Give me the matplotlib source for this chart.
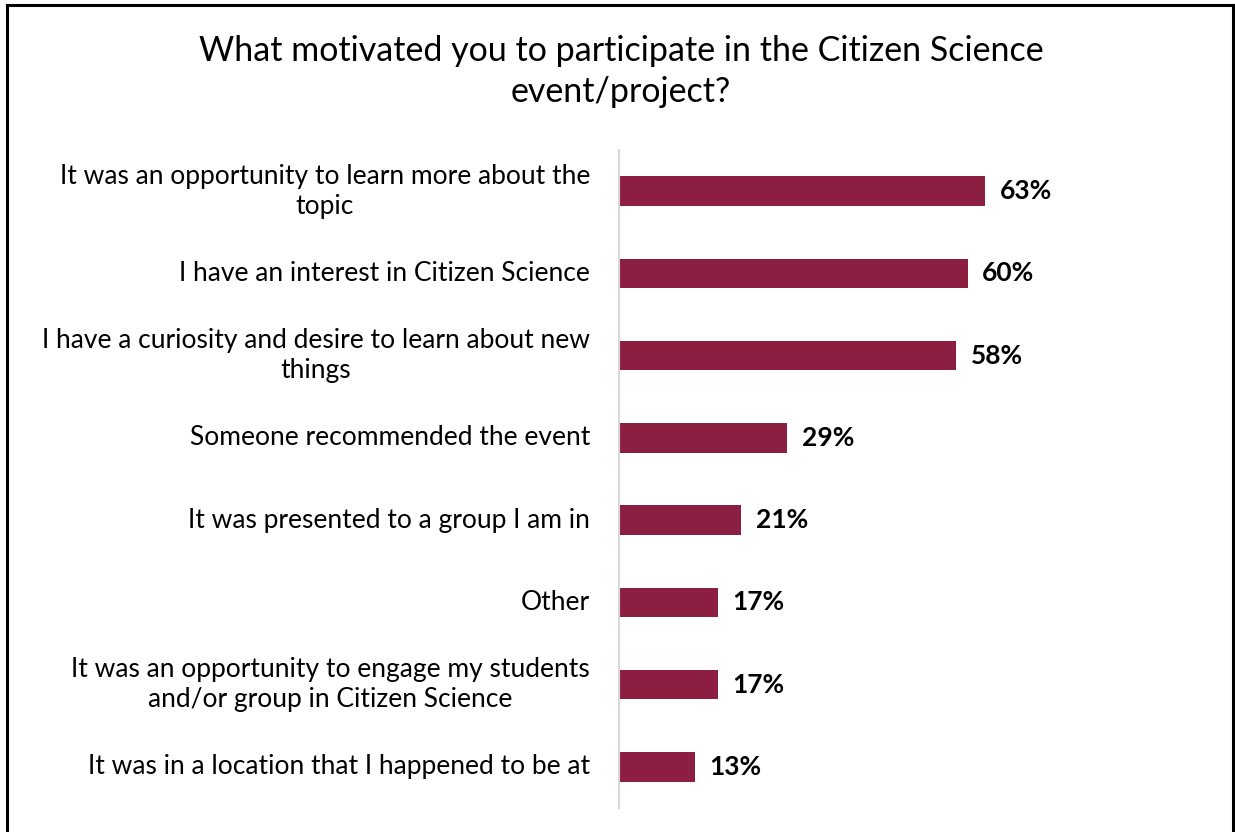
import matplotlib

matplotlib.use("Agg")
import matplotlib.pyplot as plt
from matplotlib.lines import Line2D
from matplotlib.transforms import blended_transform_factory, offset_copy

plt.rcParams["font.family"] = ["Lato", "DejaVu Sans"]

TITLE = "What motivated you to participate in the Citizen Science\nevent/project?"
REASONS = [
    "It was an opportunity to learn more about the\ntopic",
    "I have an interest in Citizen Science",
    "I have a curiosity and desire to learn about new\nthings",
    "Someone recommended the event",
    "It was presented to a group I am in",
    "Other",
    "It was an opportunity to engage my students\nand/or group in Citizen Science",
    "It was in a location that I happened to be at",
]
SHARE = [63, 60, 58, 29, 21, 17, 17, 13]

BAR_COLOR = "#8b1e41"

fig = plt.figure(figsize=(12.35, 8.32), dpi=100)
ax = fig.add_axes([0.5012, 0.0288, 0.3293, 0.7909])

ypos = list(range(len(REASONS)))
ax.barh(ypos, SHARE, height=0.36, color=BAR_COLOR)
for y, v in zip(ypos, SHARE):
    ax.text(v + 2.5, y, f"{v}%", va="center", ha="left", fontsize=19, fontweight="bold", color="black")

# category labels: right-aligned blocks, lines centred inside each block
label_tf = offset_copy(blended_transform_factory(ax.transAxes, ax.transData),
                       fig=fig, x=-29, y=0, units="dots")
for y, name in zip(ypos, REASONS):
    ax.text(0, y, name, transform=label_tf, ha="right", va="center",
            multialignment="center", fontsize=19, color="black", linespacing=1.25)

ax.set_xlim(0, 70)
ax.set_ylim(len(REASONS) - 0.5, -0.5)
ax.set_yticks([])
ax.set_xticks([])
for side in ("top", "right", "bottom"):
    ax.spines[side].set_visible(False)
ax.spines["left"].set_color("#d9d9d9")
ax.spines["left"].set_linewidth(1.5)

fig.text(0.503, 0.914, TITLE, ha="center", va="center", fontsize=24.5, linespacing=1.38)

# outer frame (open at the bottom)
frame = dict(color="black", linewidth=2.2, transform=fig.transFigure)
fig.add_artist(Line2D([7 / 1235, 7 / 1235], [0, 1 - 5 / 832], **frame))
fig.add_artist(Line2D([7 / 1235, 1233 / 1235], [1 - 5 / 832, 1 - 5 / 832], **frame))
fig.add_artist(Line2D([1233 / 1235, 1233 / 1235], [0, 1 - 5 / 832], **frame))

fig.savefig("out.png", dpi=100)
